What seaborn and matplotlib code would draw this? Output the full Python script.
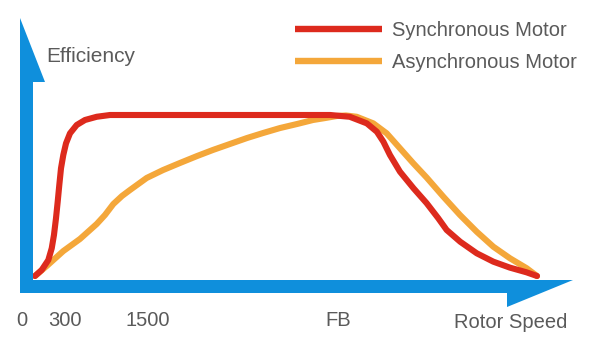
import matplotlib
matplotlib.use("Agg")
import matplotlib.pyplot as plt
import seaborn as sns
import pandas as pd
from matplotlib.patches import Polygon

# ---------------- data (speed as % of range, efficiency as % of peak) ----------------
sync_speed = [0, 1.33, 2.65, 3.33, 3.78, 4.18, 4.52, 4.84, 5.18, 5.64, 6.18, 6.97, 8.31,
              9.96, 12.29, 14.94, 32.9, 58.8, 62.7, 66.1, 68.1, 69.4, 70.7, 72.7, 75.4,
              78.0, 80.3, 82.0, 84.7, 88.0, 91.3, 94.6, 97.9, 100]
sync_eff = [0, 3.7, 9.9, 17.2, 25.5, 35.8, 46.1, 56.5, 66.9, 75.2, 82.4, 88.6, 93.8,
            96.9, 98.9, 100, 100, 100, 98.9, 94.8, 89.6, 83.4, 75.2, 64.8, 54.5,
            45.3, 36.0, 28.6, 21.3, 14.1, 8.9, 5.2, 2.3, 0]

async_speed = [0, 2.33, 5.64, 8.96, 12.29, 13.94, 15.6, 17.33, 18.92, 22.25, 25.5, 28.88,
               32.27, 35.46, 38.84, 42.23, 45.42, 48.8, 52.19, 55.38, 57.77, 60.16, 61.95,
               64.08, 67.39, 70.06, 72.71, 75.36, 78.03, 81.33, 84.66, 87.99, 91.3, 94.62,
               97.95, 100]
async_eff = [0, 6.2, 15.5, 23.0, 32.3, 37.9, 44.7, 49.7, 53.4, 60.9, 65.8, 70.2,
             74.5, 78.3, 82.0, 85.7, 88.8, 91.9, 94.4, 96.9, 98.1, 99.4, 99.7,
             98.9, 94.8, 88.6, 79.3, 70.0, 61.1, 49.3, 37.9, 27.5, 18.2, 11.0,
             4.8, 0]

series_names = ["Synchronous Motor", "Asynchronous Motor"]
tick_positions = [-2.6, 6.0, 22.5, 60.4]
tick_labels = ["0", "300", "1500", "FB"]
y_title = "Efficiency"
x_title = "Rotor Speed"

RED = "#dd2a1d"
ORANGE = "#f4a73a"
BLUE = "#0f8fdc"
GRAY = "#5a5a5a"

W, H = 597, 342
sns.set_theme(style="white")
plt.rcParams["font.family"] = ["Liberation Sans", "DejaVu Sans"]

fig = plt.figure(figsize=(W / 100, H / 100), dpi=100)
ax = fig.add_axes([0, 1 - 300 / H, 1, 300 / H])
sx = 5.02   # px per speed unit
sy = 1.61   # px per efficiency unit
ax.set_xlim(-35 / sx, (W - 35) / sx)
ax.set_ylim((276 - 300) / sy, 276 / sy)

df_sync = pd.DataFrame({"speed": sync_speed, "eff": sync_eff})
df_async = pd.DataFrame({"speed": async_speed, "eff": async_eff})

sns.lineplot(data=df_async, x="speed", y="eff", color=ORANGE, lw=4.4, sort=False,
             estimator=None, ax=ax, label=series_names[1])
sns.lineplot(data=df_sync, x="speed", y="eff", color=RED, lw=4.4, sort=False,
             estimator=None, ax=ax, label=series_names[0])
for ln in ax.lines:
    ln.set_solid_capstyle("round")
    ln.set_solid_joinstyle("round")
    ln.set_clip_on(False)
ax.lines[0].set_zorder(3)
ax.lines[1].set_zorder(4)

def P(x, y):
    return (x / W, 1 - y / H)

vert = Polygon([P(20, 293), P(20, 18), P(45, 82), P(33, 82), P(33, 293)],
               closed=True, transform=fig.transFigure, facecolor=BLUE, edgecolor="none",
               zorder=2)
horiz = Polygon([P(20, 280), P(573, 280), P(507, 307), P(507, 293), P(20, 293)],
                closed=True, transform=fig.transFigure, facecolor=BLUE, edgecolor="none",
                zorder=2)
fig.add_artist(vert)
fig.add_artist(horiz)

ax.set_xticks(tick_positions, tick_labels)
ax.set_yticks([])
ax.tick_params(axis="x", length=0, pad=8, labelsize=14.5, labelcolor=GRAY)
for s in ax.spines.values():
    s.set_visible(False)
ax.set_xlabel("")
ax.set_ylabel("")

fig.text(46 / W, 1 - 56 / H, y_title, fontsize=15, color=GRAY, ha="left", va="center")
fig.text(511 / W, 1 - 323 / H, x_title, fontsize=14.5, color=GRAY, ha="center", va="center")

handles = [ax.lines[1], ax.lines[0]]
leg = ax.legend(handles, series_names, loc="upper left",
                bbox_to_anchor=(295 / W, 1 - 21 / H), bbox_transform=fig.transFigure,
                frameon=False, handlelength=4.3, handletextpad=0.5, labelspacing=0.65,
                borderpad=0, borderaxespad=0, fontsize=14.5, labelcolor=GRAY)
for l in leg.get_lines():
    l.set_solid_capstyle("butt")
    l.set_linewidth(4.6)

fig.savefig("out.png", dpi=100)
